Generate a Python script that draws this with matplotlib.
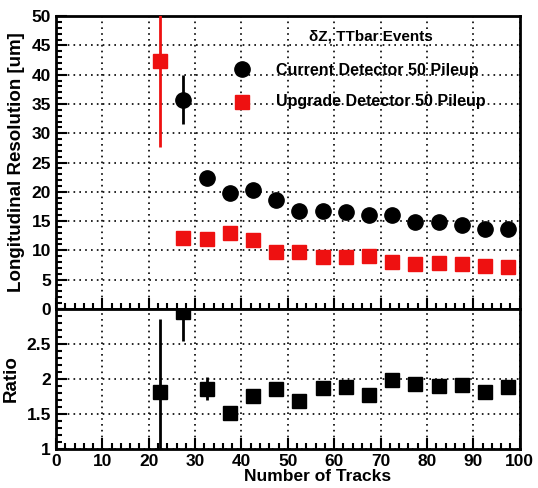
"""Vertex z resolution vs number of tracks, current vs upgrade detector."""
import numpy as np
import matplotlib
matplotlib.use("Agg")
import matplotlib.pyplot as plt
from matplotlib.ticker import MultipleLocator

plt.rcParams["font.family"] = ["Liberation Sans", "DejaVu Sans"]
plt.rcParams["font.weight"] = "bold"

# -------------------------------------------------------
# Data.
# -------------------------------------------------------
ntracks = [22.5, 27.5, 32.5, 37.5, 42.5, 47.5, 52.5, 57.5,
           62.5, 67.5, 72.5, 77.5, 82.5, 87.5, 92.5, 97.5]

cur_x = ntracks[1:]
cur_res = [35.7, 22.3, 19.8, 20.3, 18.6, 16.8, 16.7, 16.6,
           16.1, 16.0, 14.9, 14.9, 14.4, 13.7, 13.6]
cur_err = [4.2, 0.8, 0.5, 0.5, 0.4, 0.4, 0.4, 0.4,
           0.4, 0.4, 0.3, 0.3, 0.3, 0.3, 0.3]

upg_x = ntracks
upg_res = [42.3, 12.1, 12.0, 12.9, 11.8, 9.8, 9.7, 8.9,
           8.8, 9.0, 8.0, 7.6, 7.9, 7.6, 7.4, 7.2]
upg_err = [14.6, 0.3, 0.3, 0.3, 0.3, 0.2, 0.2, 0.2,
           0.2, 0.2, 0.2, 0.2, 0.2, 0.2, 0.2, 0.2]

ratio = [1.82, 2.95, 1.86, 1.52, 1.75, 1.86, 1.68, 1.87,
         1.89, 1.77, 1.99, 1.93, 1.90, 1.91, 1.82, 1.89]
ratio_lo = [1.05, 0.41, 0.16, 0.04, 0.10, 0.05, 0.04, 0.05,
            0.05, 0.05, 0.05, 0.05, 0.05, 0.05, 0.05, 0.05]
ratio_hi = [1.04, 0.41, 0.17, 0.04, 0.10, 0.05, 0.04, 0.05,
            0.05, 0.05, 0.05, 0.05, 0.05, 0.05, 0.05, 0.05]

# -------------------------------------------------------
# Plot.
# -------------------------------------------------------
fig = plt.figure(figsize=(5.38, 4.88), dpi=100)
ax1 = fig.add_axes([0.104, 0.367, 0.862, 0.600])
ax2 = fig.add_axes([0.104, 0.080, 0.862, 0.287], sharex=ax1)

ax1.errorbar(cur_x, cur_res, yerr=cur_err, fmt="o", color="black",
             ms=11, elinewidth=2, capsize=0, zorder=5)
ax1.errorbar(upg_x, upg_res, yerr=upg_err, fmt="s", color="#ee1111",
             ms=10.5, elinewidth=2, capsize=0, zorder=4)
ax1.set_ylim(0, 50)
ax1.set_xlim(0, 100)

ax2.errorbar(ntracks, ratio, yerr=[ratio_lo, ratio_hi], fmt="s",
             color="black", ms=10.5, elinewidth=2, capsize=0, zorder=5)
ax2.set_ylim(1, 3)

for ax in (ax1, ax2):
    ax.grid(True, which="major", linestyle=(0, (1, 2.5)), color="black",
            linewidth=1.2)
    ax.tick_params(which="both", direction="in", labelsize=12.5,
                   width=1.5, top=False, right=False)
    ax.tick_params(which="major", length=8)
    ax.tick_params(which="minor", length=4)
    for sp in ax.spines.values():
        sp.set_linewidth(2)
    ax.xaxis.set_major_locator(MultipleLocator(10))
    ax.xaxis.set_minor_locator(MultipleLocator(2))

ax1.yaxis.set_major_locator(MultipleLocator(5))
ax1.yaxis.set_minor_locator(MultipleLocator(1))
ax2.yaxis.set_major_locator(MultipleLocator(0.5))
ax2.yaxis.set_minor_locator(MultipleLocator(0.1))
ax2.set_yticks([1, 1.5, 2, 2.5])
ax2.set_yticklabels(["1", "1.5", "2", "2.5"])
ax1.tick_params(labelbottom=False)

ax1.set_ylabel("Longitudinal Resolution [um]", fontsize=13.5,
               fontweight="bold", labelpad=5)
ax2.set_ylabel("Ratio", fontsize=13.5, fontweight="bold", labelpad=5)
ax2.set_xlabel("Number of Tracks", fontsize=12.5, fontweight="bold")
ax2.xaxis.set_label_coords(0.565, -0.14)

# in-plot text
ax1.text(0.68, 0.93, "δZ, TTbar Events", transform=ax1.transAxes,
         fontsize=11, ha="center", va="center")
ax1.plot([40.1], [41.0], "o", color="black", ms=11)
ax1.plot([40.1], [35.3], "s", color="#ee1111", ms=10.5)
ax1.text(47.5, 40.7, "Current Detector 50 Pileup", fontsize=11.5,
         va="center")
ax1.text(47.5, 35.4, "Upgrade Detector 50 Pileup", fontsize=11.5,
         va="center")

fig.savefig("out.png", dpi=100, facecolor="white")
